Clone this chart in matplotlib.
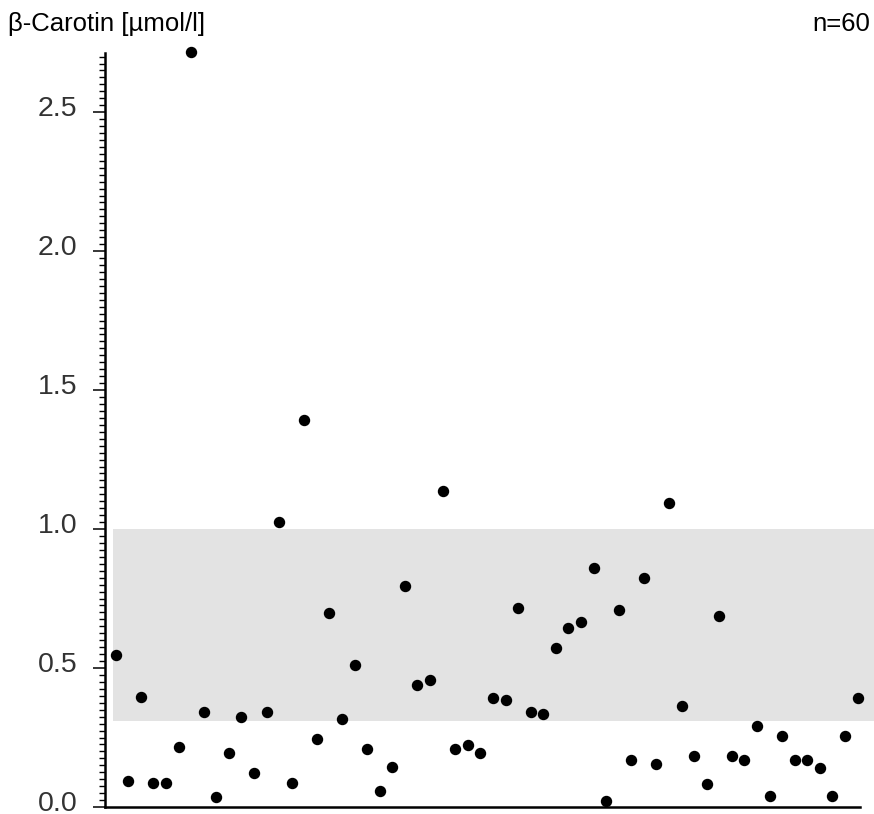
import matplotlib.pyplot as plt
from matplotlib.ticker import MultipleLocator
from matplotlib.transforms import ScaledTranslation

plt.rcParams['font.family'] = ['Liberation Sans', 'DejaVu Sans']

# beta-carotene values, one per sample (n=60)
samples = list(range(60))
carotin = [
    0.547, 0.094, 0.396, 0.086, 0.086, 0.216, 2.717, 0.342, 0.036, 0.194,
    0.324, 0.122, 0.342, 1.025, 0.086, 1.392, 0.245, 0.698, 0.317, 0.511,
    0.209, 0.058, 0.144, 0.795, 0.439, 0.457, 1.137, 0.209, 0.223, 0.194,
    0.392, 0.385, 0.716, 0.342, 0.335, 0.572, 0.644, 0.665, 0.860, 0.022,
    0.709, 0.169, 0.824, 0.155, 1.094, 0.363, 0.183, 0.083, 0.687, 0.183,
    0.169, 0.291, 0.040, 0.255, 0.169, 0.169, 0.140, 0.040, 0.255, 0.392,
]
ref_low, ref_high = 0.31, 1.0
yticks = [0.0, 0.5, 1.0, 1.5, 2.0, 2.5]
title = "β-Carotin [µmol/l]"
n_label = "n=60"

fig = plt.figure(figsize=(8.74, 8.14), dpi=100)
ax = fig.add_axes([0.1201, 0.0086, 0.8799, 0.9267])

# reference range band
ax.axhspan(ref_low, ref_high, xmin=0.0104, xmax=1.0, color='#e3e3e3', lw=0, zorder=0)

ax.plot(samples, carotin, 'o', color='black', markersize=7.2, zorder=3, clip_on=False)

ax.set_xlim(-0.851, 60.30)
ax.set_ylim(0, 2.714)

for s in ['top', 'right']:
    ax.spines[s].set_visible(False)
ax.spines['left'].set_linewidth(1.8)
ax.spines['bottom'].set_linewidth(1.8)
ax.spines['bottom'].set_bounds(-0.851, 59.18)

ax.set_xticks([])
ax.set_yticks(yticks)
ax.set_yticklabels([f"{v:.1f}" for v in yticks])
ax.yaxis.set_minor_locator(MultipleLocator(0.025))
ax.tick_params(axis='y', which='major', direction='out', length=9, width=1.1,
               pad=11, labelsize=20.5, labelcolor='#333333')
ax.tick_params(axis='y', which='minor', direction='out', length=4.5, width=1.0)

# labels sit a few pixels above their ticks in the original
shift = ScaledTranslation(0, 6 / 100, fig.dpi_scale_trans)
for lab in ax.get_yticklabels():
    lab.set_transform(lab.get_transform() + shift)

fig.text(8 / 874, 1 - 24 / 814, title, fontsize=18.5, va='center', ha='left')
fig.text(870 / 874, 1 - 24 / 814, n_label, fontsize=18.5, va='center', ha='right')

fig.savefig('out.png', dpi=100)
